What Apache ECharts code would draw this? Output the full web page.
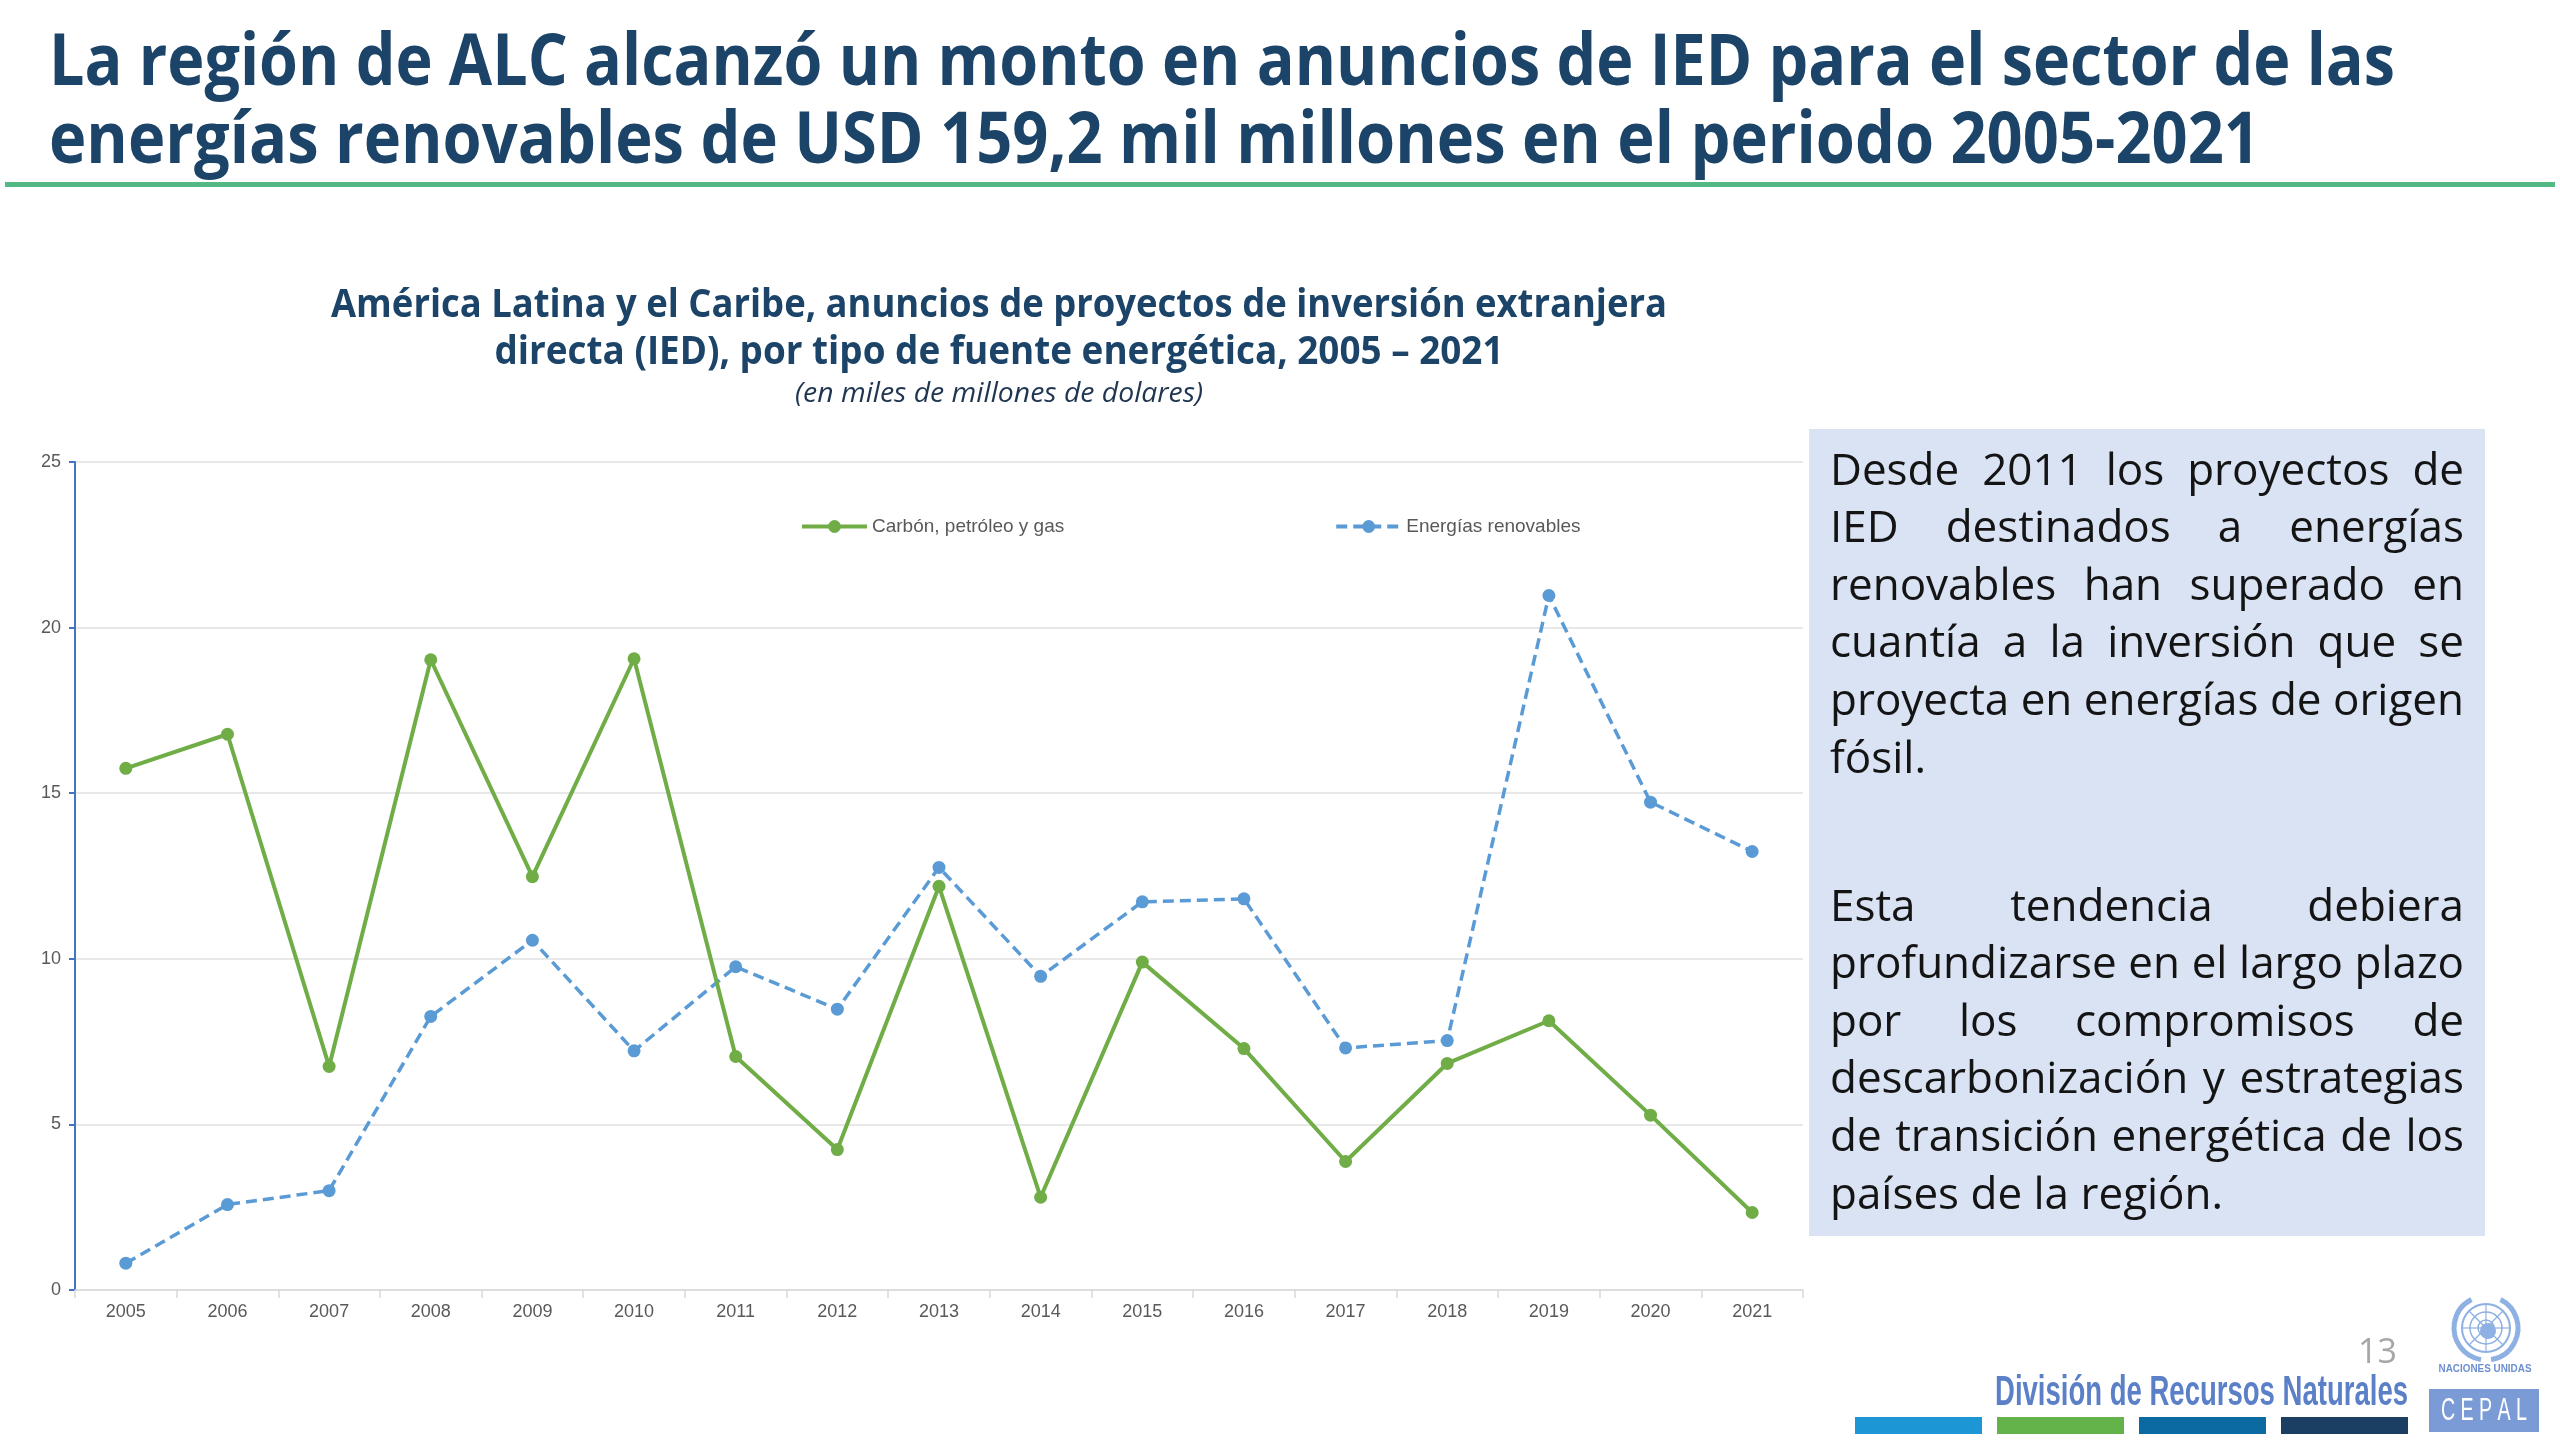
<!DOCTYPE html>
<html>
<head>
<meta charset="utf-8">
<script src="https://cdn.jsdelivr.net/npm/echarts@6/dist/echarts.min.js"></script>
<style>
html,body{margin:0;padding:0;background:#ffffff;}
#c{width:2560px;height:1440px;}
</style>
</head>
<body>
<div id="c"></div>
<script>
// ---------------- data ----------------
const years = ['2005','2006','2007','2008','2009','2010','2011','2012','2013','2014','2015','2016','2017','2018','2019','2020','2021'];
const fossil = [15.75,16.78,6.75,19.03,12.48,19.06,7.05,4.24,12.19,2.80,9.90,7.29,3.88,6.84,8.13,5.28,2.34];
const renewables = [0.81,2.58,3.00,8.26,10.56,7.22,9.76,8.48,12.76,9.47,11.72,11.81,7.31,7.53,20.97,14.73,13.24];
const seriesNames = ['Carbón, petróleo y gas','Energías renovables'];
const yMin = 0, yMax = 25, yStep = 5;

const headline = [
  'La región de ALC alcanzó un monto en anuncios de IED para el sector de las',
  'energías renovables de USD 159,2 mil millones en el periodo 2005-2021'
];
const chartTitle = [
  'América Latina y el Caribe, anuncios de proyectos de inversión extranjera',
  'directa (IED), por tipo de fuente energética, 2005 – 2021'
];
const chartUnit = '(en miles de millones de dolares)';
const para1 = [
  'Desde 2011 los proyectos de',
  'IED destinados a energías',
  'renovables han superado en',
  'cuantía a la inversión que se',
  'proyecta en energías de origen',
  'fósil.'
];
const para2 = [
  'Esta tendencia debiera',
  'profundizarse en el largo plazo',
  'por los compromisos de',
  'descarbonización y estrategias',
  'de transición energética de los',
  'países de la región.'
];
const pageNumber = '13';
const division = 'División de Recursos Naturales';
const unText = 'NACIONES UNIDAS';
const cepal = 'C E P A L';

// ---------------- helpers ----------------
const mctx = document.createElement('canvas').getContext('2d');
function F(style, weight, size, family){ return style + ' ' + weight + ' ' + size + 'px ' + family; }
function tw(t, f){ mctx.font = f; return mctx.measureText(t).width; }
function fitted(text, x, y, f, color, targetW, align){
  const w = tw(text, f);
  return { type:'text', x:x, y:y, scaleX: targetW / w, scaleY: 1, silent:true, z:10,
    style:{ text:text, x:0, y:0, font:f, fill:color, align: align || 'left', verticalAlign:'middle' } };
}

const OPEN = "'Open Sans', 'Noto Sans', sans-serif";
const NARROW = "'Liberation Sans Narrow', 'Liberation Sans', Arial, sans-serif";
const els = [];

// headline
els.push(fitted(headline[0], 49, 64, F('normal','bold',72,OPEN), '#1b4468', 2346, 'left'));
els.push(fitted(headline[1], 49, 142, F('normal','bold',72,OPEN), '#1b4468', 2211, 'left'));
els.push({ type:'rect', silent:true, shape:{x:5, y:182, width:2550, height:5}, style:{fill:'#52b884'} });

// chart title
els.push(fitted(chartTitle[0], 999, 306, F('normal','bold',40,OPEN), '#1b4468', 1336, 'center'));
els.push(fitted(chartTitle[1], 999, 353, F('normal','bold',40,OPEN), '#1b4468', 1009, 'center'));
els.push(fitted(chartUnit, 999, 394, F('italic','normal',28,OPEN), '#1f3550', 408, 'center'));

// side panel
els.push({ type:'rect', silent:true, shape:{x:1809, y:429, width:676, height:807}, style:{fill:'#dae3f3'} });
(function(){
  const f = F('normal','normal',44,OPEN);
  const x0 = 1830, target = 634, lh = 57.6;
  const all = para1.slice(0,-1).concat(para2.slice(0,-1));
  let maxW = 0;
  all.forEach(function(l){ maxW = Math.max(maxW, tw(l, f)); });
  const s = Math.min(1, target / maxW);
  function place(lines, y0){
    lines.forEach(function(line, i){
      const y = y0 + i * lh;
      const last = i === lines.length - 1;
      const words = line.split(' ');
      if (last || words.length < 2){
        els.push({ type:'text', x:x0, y:y, scaleX:s, silent:true, z:10,
          style:{ text:line, x:0, y:0, font:f, fill:'#141414', align:'left', verticalAlign:'middle' } });
        return;
      }
      const ws = words.map(function(w){ return tw(w, f) * s; });
      const sum = ws.reduce(function(a,b){ return a+b; }, 0);
      const gap = (target - sum) / (words.length - 1);
      let x = x0;
      words.forEach(function(w, k){
        els.push({ type:'text', x:x, y:y, scaleX:s, silent:true, z:10,
          style:{ text:w, x:0, y:0, font:f, fill:'#141414', align:'left', verticalAlign:'middle' } });
        x += ws[k] + gap;
      });
    });
  }
  place(para1, 472);
  place(para2, 908);
})();

// footer
els.push({ type:'text', x:2397, y:1353, silent:true, style:{ text:pageNumber, x:0, y:0, font:F('normal','normal',34,OPEN), fill:'#a6a6a6', align:'right', verticalAlign:'middle' } });
els.push(fitted(division, 1995, 1393, F('normal','bold',43,NARROW), '#5b80c8', 413, 'left'));
const barColors = ['#1d96d5','#63b34a','#0b6aa2','#1b3f63'];
barColors.forEach(function(c, i){
  els.push({ type:'rect', silent:true, shape:{x:1855 + i*142, y:1417, width:127, height:17}, style:{fill:c} });
});
// UN emblem (simplified)
(function(){
  const cx = 2486, cy = 1328, col = '#8fb0e2';
  els.push({ type:'circle', silent:true, shape:{cx:cx, cy:cy, r:24}, style:{fill:'none', stroke:col, lineWidth:2} });
  els.push({ type:'circle', silent:true, shape:{cx:cx, cy:cy, r:16}, style:{fill:'none', stroke:col, lineWidth:1.5} });
  els.push({ type:'circle', silent:true, shape:{cx:cx, cy:cy, r:8}, style:{fill:'none', stroke:col, lineWidth:1.5} });
  for (let a = 0; a < 8; a++){
    const ang = a * Math.PI / 4;
    els.push({ type:'line', silent:true, shape:{x1:cx, y1:cy, x2:cx + 24*Math.cos(ang), y2:cy + 24*Math.sin(ang)}, style:{stroke:col, lineWidth:1.2} });
  }
  els.push({ type:'circle', silent:true, shape:{cx:cx+2, cy:cy+3, r:8}, style:{fill:col} });
  els.push({ type:'arc', silent:true, shape:{cx:cx, cy:cy, r:32, startAngle:Math.PI*0.55, endAngle:Math.PI*1.35}, style:{fill:'none', stroke:col, lineWidth:5} });
  els.push({ type:'arc', silent:true, shape:{cx:cx, cy:cy, r:32, startAngle:-Math.PI*0.35, endAngle:Math.PI*0.45}, style:{fill:'none', stroke:col, lineWidth:5} });
})();
els.push(fitted(unText, 2485, 1369, F('normal','bold',10,"'Liberation Sans', Arial, sans-serif"), '#6d8fce', 93, 'center'));
els.push({ type:'rect', silent:true, shape:{x:2429, y:1389, width:110, height:43}, style:{fill:'#7b9bd6'} });
els.push(fitted(cepal, 2484, 1411, F('normal','normal',32,NARROW), '#ffffff', 86, 'center'));

// ---------------- chart ----------------
const chart = echarts.init(document.getElementById('c'));
const axisFont = "'Liberation Sans', Arial, sans-serif";
chart.setOption({
  animation: false,
  backgroundColor: '#ffffff',
  grid: { left: 75, right: 757, top: 462, bottom: 150, containLabel: false },
  legend: {
    left: 800, top: 517, padding: 0, itemWidth: 65, itemHeight: 16, itemGap: 270,
    selectedMode: false, data: seriesNames,
    lineStyle: { width: 4 },
    textStyle: { fontFamily: axisFont, fontSize: 19, color: '#595959' }
  },
  xAxis: {
    type: 'category', data: years, boundaryGap: true,
    axisLine: { lineStyle: { color: '#d9d9d9', width: 1.5 } },
    axisTick: { show: true, length: 8, lineStyle: { color: '#d9d9d9', width: 1.5 } },
    axisLabel: { color: '#595959', fontSize: 18, fontFamily: axisFont, margin: 13 }
  },
  yAxis: {
    type: 'value', min: yMin, max: yMax, interval: yStep,
    axisLine: { show: true, lineStyle: { color: '#4472c4', width: 2 } },
    axisTick: { show: true, length: 6, lineStyle: { color: '#4472c4', width: 2 } },
    axisLabel: { color: '#595959', fontSize: 18, fontFamily: axisFont, margin: 14 },
    splitLine: { lineStyle: { color: '#e0e0e0', width: 1.5 } }
  },
  series: [
    { name: seriesNames[0], type: 'line', data: fossil, symbol: 'circle', symbolSize: 13,
      lineStyle: { color: '#70ad47', width: 4 }, itemStyle: { color: '#70ad47' }, z: 3 },
    { name: seriesNames[1], type: 'line', data: renewables, symbol: 'circle', symbolSize: 13,
      lineStyle: { color: '#5b9bd5', width: 3.5, type: [11, 6] }, itemStyle: { color: '#5b9bd5' }, z: 2 }
  ],
  graphic: els
});
</script>
</body>
</html>
